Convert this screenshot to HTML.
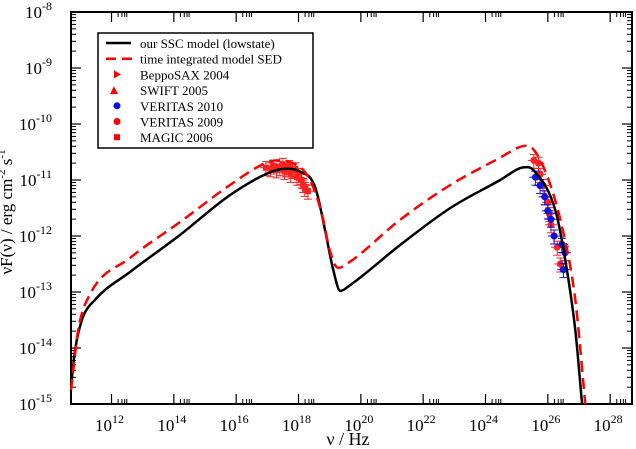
<!DOCTYPE html>
<html><head><meta charset="utf-8">
<style>
body{margin:0;background:#fff;}
svg{display:block;font-family:"Liberation Serif",serif;}
</style></head>
<body>
<svg id="chart" width="636" height="449" viewBox="0 0 636 449">
<g id="axes"></g>
<g id="series"></g>
<g id="legend"></g>
</svg>
<script>
// log10 values
const xDecadeTicks = [12,14,16,18,20,22,24,26,28];
const yDecadeTicks = [-15,-14,-13,-12,-11,-10,-9,-8];
const sscX = [10.7,10.83,11.05,11.47,12.6,14.2,15.8,17.1,17.6,18.05,18.53,18.85,19.1,19.34,19.65,21.26,22.87,24.47,25.1,25.35,25.6,26.24,26.56,26.88,27.1];
const sscY = [-14.66,-14.04,-13.5,-13.14,-12.64,-11.98,-11.27,-10.86,-10.8,-10.85,-11.12,-11.89,-12.57,-12.98,-12.88,-12.16,-11.5,-11.0,-10.79,-10.77,-10.86,-11.54,-12.43,-13.68,-15];
const sedX = [10.7,10.93,11.3,12.6,14.2,15.8,16.93,17.3,17.73,18.37,18.76,19.0,19.27,19.65,21.26,22.87,24.47,25.1,25.3,25.5,25.9,26.4,26.88,27.2];
const sedY = [-14.75,-13.68,-13.05,-12.39,-11.75,-11.09,-10.7,-10.65,-10.68,-11.0,-11.63,-12.25,-12.57,-12.46,-11.71,-11.09,-10.6,-10.41,-10.39,-10.43,-10.82,-11.71,-13.14,-15];
const xrayX = [16.95,17.1,17.2,17.3,17.4,17.5,17.55,17.6,17.7,17.75,17.8,17.9,17.95,18.0,18.1,18.15,18.2,18.3];
const xrayY = [-10.78,-10.8,-10.75,-10.82,-10.78,-10.72,-10.85,-10.8,-10.76,-10.9,-10.83,-10.8,-10.95,-10.9,-11.0,-11.08,-11.15,-11.2];
const gammaRedX = [25.55,25.7,25.75,25.85,25.9,26.0,26.05,26.1,26.2,26.3,26.4];
const gammaRedY = [-10.65,-10.7,-10.9,-11.1,-11.3,-11.4,-11.6,-11.8,-12.0,-12.2,-12.5];
const veritasX = [25.6,25.75,25.9,26.0,26.1,26.2,26.45,26.5,26.55];
const veritasY = [-10.95,-11.1,-11.3,-11.55,-11.7,-12.0,-12.15,-12.6,-12.3];

const L=71,R=632,T=12,B=404,XMIN=10.7,XMAX=28.7,YMIN=-15,YMAX=-8;
const sx=v=>L+(v-XMIN)/(XMAX-XMIN)*(R-L);
const sy=v=>B-(v-YMIN)/(YMAX-YMIN)*(B-T);
const NS="http://www.w3.org/2000/svg";
function mk(tag,attrs,parent){const e=document.createElementNS(NS,tag);for(const k in attrs)e.setAttribute(k,attrs[k]);parent.appendChild(e);return e;}
const axes=document.getElementById('axes'),ser=document.getElementById('series'),leg=document.getElementById('legend');

let frame=mk('rect',{x:L,y:T,width:R-L,height:B-T,fill:'none',stroke:'#000','stroke-width':2},axes);



xDecadeTicks.forEach(d=>{
  const x=sx(d);
  [[B,-1],[T,1]].forEach(([y0,s])=>{
    mk('line',{x1:x,x2:x,y1:y0,y2:y0+s*10,stroke:'#000','stroke-width':1.2},axes);
    [2,3,4,5].forEach(m=>{const xm=sx(d+Math.log10(m)*0.7);mk('line',{x1:xm,x2:xm,y1:y0,y2:y0+s*5,stroke:'#000','stroke-width':1},axes);});
  });
  const t=mk('text',{x:x-2,y:431,'font-size':17,'text-anchor':'middle',fill:'#000'},axes);
  t.innerHTML='10<tspan dy="-8" font-size="12">'+d+'</tspan>';
  
  
});
yDecadeTicks.forEach(d=>{
  const y=sy(d);
  [[L,1],[R,-1]].forEach(([x0,s])=>{
    mk('line',{x1:x0,x2:x0+s*10,y1:y,y2:y,stroke:'#000','stroke-width':1.2},axes);
    if(d<-8)for(let m=2;m<=9;m++){const ym=sy(d+Math.log10(m));mk('line',{x1:x0,x2:x0+s*5,y1:ym,y2:ym,stroke:'#000','stroke-width':1},axes);}
  });
  const t=mk('text',{x:52,y:y+6,'font-size':17,'text-anchor':'end',fill:'#000'},axes);
  t.innerHTML='10<tspan dy="-8" font-size="12">'+d+'</tspan>';
  
  
});
let xt=mk('text',{x:348,y:445,'font-size':18,'text-anchor':'middle'},axes);
xt.textContent='ν / Hz';


let yt=mk('text',{x:0,y:0,'font-size':17,'text-anchor':'middle',transform:'translate(12,212) rotate(-90)'},axes);
yt.innerHTML='νF(ν) / erg cm<tspan dy="-7" font-size="11">-2</tspan><tspan dy="7"> s</tspan><tspan dy="-7" font-size="11">-1</tspan>';



// monotone cubic (Fritsch-Carlson) in pixel space
function smooth(xs,ys){
  const P=xs.map((v,i)=>[sx(v),sy(ys[i])]);const n=P.length;
  const dl=[],m=[];
  for(let i=0;i<n-1;i++)dl.push((P[i+1][1]-P[i][1])/(P[i+1][0]-P[i][0]));
  m[0]=dl[0];m[n-1]=dl[n-2];
  for(let i=1;i<n-1;i++){m[i]=(dl[i-1]*dl[i]<=0)?0:(dl[i-1]+dl[i])/2;}
  for(let i=0;i<n-1;i++){if(dl[i]===0){m[i]=m[i+1]=0;continue;}const a=m[i]/dl[i],b=m[i+1]/dl[i],s=a*a+b*b;if(s>9){const t=3/Math.sqrt(s);m[i]=t*a*dl[i];m[i+1]=t*b*dl[i];}}
  let d='M'+P[0][0].toFixed(1)+','+P[0][1].toFixed(1);
  for(let i=0;i<n-1;i++){const h=(P[i+1][0]-P[i][0])/3;
    d+='C'+(P[i][0]+h).toFixed(1)+','+(P[i][1]+m[i]*h).toFixed(1)+' '+(P[i+1][0]-h).toFixed(1)+','+(P[i+1][1]-m[i+1]*h).toFixed(1)+' '+P[i+1][0].toFixed(1)+','+P[i+1][1].toFixed(1);}
  return d;
}

function errPts(xs,ys,color,name,shape){
  xs.forEach((v,i)=>{
    const x=sx(v),y=sy(ys[i]);
    const g=mk('g',{},ser);
    
    
    mk('line',{x1:x-6,x2:x+6,y1:y,y2:y,stroke:color,'stroke-width':1},g);
    mk('line',{x1:x,x2:x,y1:y-6,y2:y+8,stroke:color,'stroke-width':1},g);
    mk('line',{x1:x-4,x2:x+4,y1:y-6,y2:y-6,stroke:color,'stroke-width':1},g);
    mk('line',{x1:x-4,x2:x+4,y1:y+8,y2:y+8,stroke:color,'stroke-width':1},g);
    if(shape==='sq')mk('rect',{x:x-3,y:y-3,width:6,height:6,fill:color},g);
    else mk('circle',{cx:x,cy:y,r:3.5,fill:color},g);
  });
}
errPts(xrayX,xrayY,'#ff2020','xray-point','sq');
errPts(gammaRedX,gammaRedY,'#ff2020','magic-point','c');
errPts(veritasX,veritasY,'#1010e0','veritas-2010-point','c');

let ssc=mk('path',{d:smooth(sscX,sscY),fill:'none',stroke:'#000','stroke-width':2.5},ser);


let sed=mk('path',{d:smooth(sedX,sedY),fill:'none',stroke:'#ff0000','stroke-width':2.5,'stroke-dasharray':'11,6'},ser);



mk('rect',{x:98,y:33,width:215,height:115,fill:'#fff',stroke:'#000','stroke-width':1.5},leg);
const items=[['our SSC model (lowstate)','line'],['time integrated model SED','dash'],['BeppoSAX 2004','tri-r'],['SWIFT 2005','tri-u'],['VERITAS 2010','cb'],['VERITAS 2009','cr'],['MAGIC 2006','sq']];
items.forEach((it,i)=>{
  const y=44+i*15.7;
  const g=mk('g',{},leg);
  
  
  const k=it[1];
  if(k==='line')mk('line',{x1:106,x2:131,y1:y-1,y2:y-1,stroke:'#000','stroke-width':2.5},g);
  else if(k==='dash')mk('line',{x1:106,x2:132,y1:y-1,y2:y-1,stroke:'#f00','stroke-width':2.5,'stroke-dasharray':'10,6'},g);
  else if(k==='tri-r')mk('polygon',{points:`114,${y-5} 121,${y-1} 114,${y+3}`,fill:'#f00'},g);
  else if(k==='tri-u')mk('polygon',{points:`114,${y-5} 118,${y+3} 110,${y+3}`,fill:'#f00'},g);
  else if(k==='cb')mk('circle',{cx:117,cy:y-1,r:3.5,fill:'#1010e0'},g);
  else if(k==='cr')mk('circle',{cx:117,cy:y-1,r:3.5,fill:'#f00'},g);
  else mk('rect',{x:114,y:y-4,width:6,height:6,fill:'#f00'},g);
  const t=mk('text',{x:140,y:y+4,'font-size':13},g);
  t.textContent=it[0];
});
</script>
</body></html>
